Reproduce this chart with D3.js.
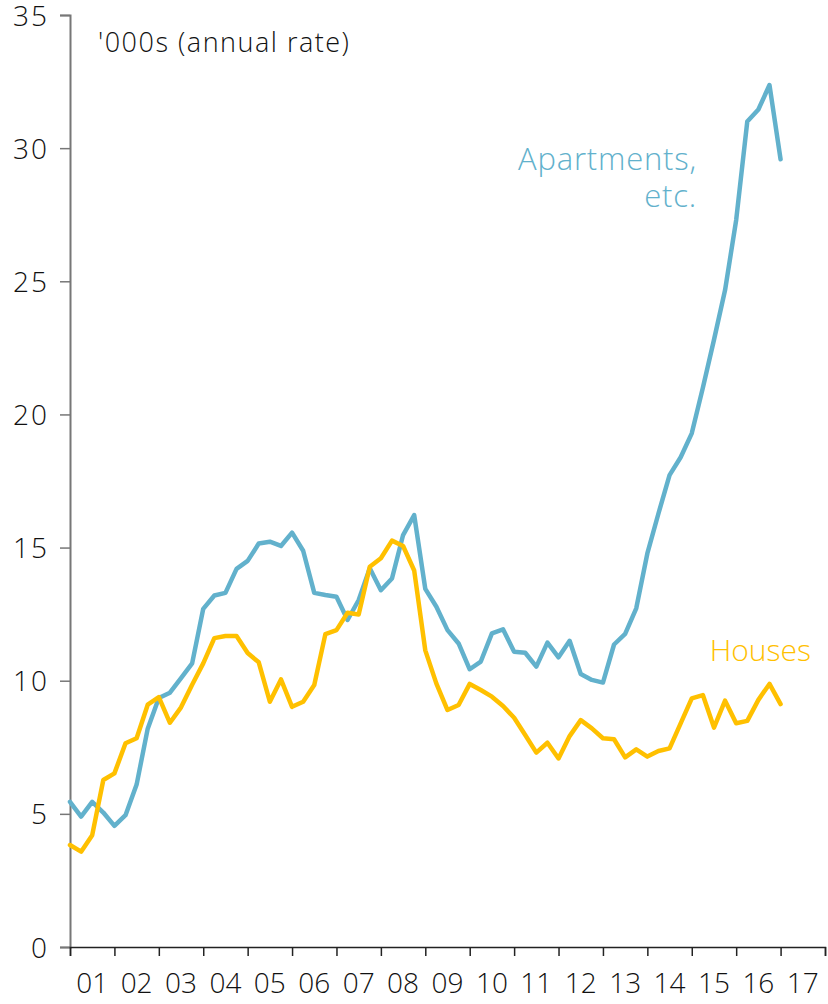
<!DOCTYPE html>
<html>
<head>
<meta charset="utf-8">
<script src="https://cdn.jsdelivr.net/npm/d3@7"></script>
<style>
  body { margin: 0; background: #fff; }
  text { font-family: 'Open Sans', Lato, sans-serif; font-weight: 300; }
</style>
</head>
<body>
<div id="chart"></div>
<script>
// quarterly, 2001 Q1 to 2017 Q1
var apartments = [5.45, 4.9, 5.45, 5.05, 4.55, 4.95, 6.1, 8.2, 9.35, 9.55, 10.1, 10.65,
  12.7, 13.2, 13.3, 14.2, 14.5, 15.15, 15.22, 15.06, 15.56, 14.88, 13.3, 13.22,
  13.15, 12.28, 13.03, 14.22, 13.4, 13.84, 15.47, 16.22, 13.45, 12.78, 11.9, 11.4,
  10.43, 10.72, 11.78, 11.93, 11.09, 11.05, 10.53, 11.43, 10.88, 11.5, 10.25, 10.03,
  9.93, 11.36, 11.76, 12.72, 14.78, 16.28, 17.72, 18.39, 19.29, 21.0, 22.8, 24.67,
  27.3, 31.0, 31.45, 32.37, 29.58]
var houses = [3.83, 3.58, 4.2, 6.27, 6.52, 7.65, 7.84, 9.1, 9.38, 8.42, 9.0, 9.85,
  10.65, 11.6, 11.68, 11.68, 11.04, 10.69, 9.21, 10.05, 9.02, 9.21, 9.84, 11.75,
  11.9, 12.55, 12.49, 14.28, 14.6, 15.26, 15.06, 14.14, 11.14, 9.89, 8.9, 9.09,
  9.88, 9.65, 9.4, 9.05, 8.61, 7.96, 7.3, 7.67, 7.08, 7.92, 8.52, 8.21,
  7.84, 7.8, 7.12, 7.42, 7.15, 7.36, 7.46, 8.4, 9.34, 9.46, 8.24, 9.25,
  8.4, 8.49, 9.28, 9.88, 9.12]
var yearLabels = ['01', '02', '03', '04', '05', '06', '07', '08', '09', '10',
  '11', '12', '13', '14', '15', '16', '17']
var yTicks = [0, 5, 10, 15, 20, 25, 30, 35]

var margin = { top: 15, left: 70, right: 3, bottom: 57 }
var width = 828 - margin.left - margin.right
var height = 1004 - margin.top - margin.bottom

var svg = d3
  .select('#chart')
  .append('svg')
  .attr('width', width + margin.left + margin.right)
  .attr('height', height + margin.top + margin.bottom)
  .append('g')
  .attr('transform', 'translate(' + margin.left + ',' + margin.top + ')')

var xPositionScale = d3.scaleLinear().domain([2001, 2018]).range([0, width])
var yPositionScale = d3.scaleLinear().domain([0, 35]).range([height, 0])

var quarter = function(i) {
  return 2001 + i / 4
}

var line = d3
  .line()
  .x(function(d, i) {
    return xPositionScale(quarter(i))
  })
  .y(function(d) {
    return yPositionScale(d)
  })

// y axis, ticks on the outside
var yAxis = d3
  .axisLeft(yPositionScale)
  .tickValues(yTicks)
  .tickSize(10)
  .tickPadding(11)
svg
  .append('g')
  .attr('class', 'axis y-axis')
  .call(yAxis)
svg.selectAll('.y-axis path').attr('stroke', '#777').attr('stroke-width', 2)
svg.selectAll('.y-axis line').attr('stroke', '#777').attr('stroke-width', 1.5)
svg
  .selectAll('.y-axis text')
  .attr('font-size', 28)
  .attr('fill', '#111')
  .attr('font-family', null)
  .attr('letter-spacing', 2)
  .attr('dy', '0.36em')

// x axis, ticks at year boundaries, labels in the middle of each year
var xAxis = d3
  .axisBottom(xPositionScale)
  .tickValues(d3.range(2001, 2019))
  .tickSize(9)
  .tickFormat('')
svg
  .append('g')
  .attr('class', 'axis x-axis')
  .attr('transform', 'translate(0,' + height + ')')
  .call(xAxis)
svg.selectAll('.x-axis path').attr('stroke', '#222').attr('stroke-width', 1.5)
svg.selectAll('.x-axis line').attr('stroke', '#222').attr('stroke-width', 1.5)

svg
  .append('g')
  .selectAll('text')
  .data(yearLabels)
  .enter()
  .append('text')
  .text(d => d)
  .attr('x', (d, i) => xPositionScale(2001.5 + i))
  .attr('y', height + 46)
  .attr('text-anchor', 'middle')
  .attr('font-size', 28)
  .attr('fill', '#111')

// lines
svg
  .append('path')
  .datum(apartments)
  .attr('d', line)
  .attr('fill', 'none')
  .attr('stroke', '#62b1cc')
  .attr('stroke-width', 4.5)
  .attr('stroke-linejoin', 'round')
  .attr('stroke-linecap', 'round')
svg
  .append('path')
  .datum(houses)
  .attr('d', line)
  .attr('fill', 'none')
  .attr('stroke', '#ffc000')
  .attr('stroke-width', 4.5)
  .attr('stroke-linejoin', 'round')
  .attr('stroke-linecap', 'round')

// labels
svg
  .append('text')
  .text("'000s (annual rate)")
  .attr('x', 28)
  .attr('y', 37)
  .attr('font-size', 27)
  .attr('letter-spacing', 1.5)
  .attr('fill', '#111')

svg
  .append('text')
  .attr('text-anchor', 'end')
  .attr('fill', '#62b1cc')
  .attr('font-size', 31)
  .attr('letter-spacing', 0.8)
  .selectAll('tspan')
  .data(['Apartments,', 'etc.'])
  .enter()
  .append('tspan')
  .attr('x', 627)
  .attr('y', (d, i) => 155 + i * 37)
  .text(d => d)

svg
  .append('text')
  .text('Houses')
  .attr('x', 741)
  .attr('y', 646)
  .attr('text-anchor', 'end')
  .attr('font-size', 30)
  .attr('fill', '#ffc000')
</script>
</body>
</html>
